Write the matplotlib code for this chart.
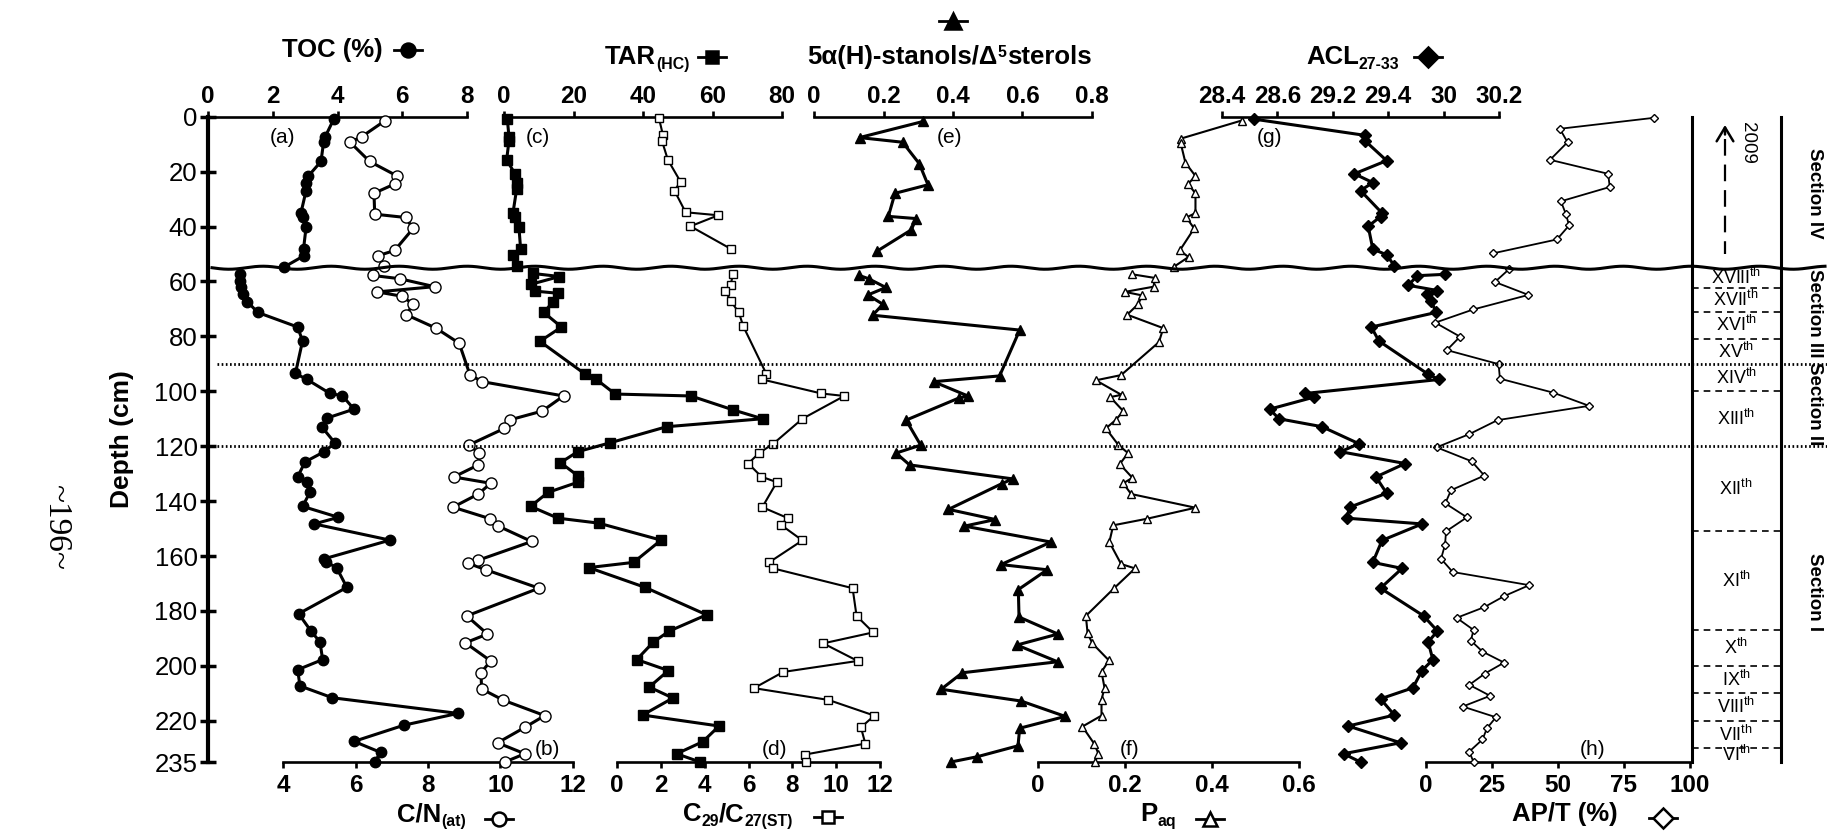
import numpy as np
import matplotlib.pyplot as plt
from matplotlib.lines import Line2D

# ---- data (depth in cm) ----
toc_depth = [1, 7.3, 9.3, 16.3, 21.6, 24, 26.9, 35.1, 36.4, 40.2, 48.2, 50.6, 54.7, 57.4, 59.8, 62.2, 64.6, 67.3,
             71.3, 76.6, 81.7, 93.5, 95.7, 100.8, 101.6, 106.5, 109.7, 112.9, 118.8, 122, 125.7, 131.1, 133.1, 136.8,
             141.9, 145.9, 148.3, 154.2, 161, 162.1, 164.2, 171.4, 181, 187.3, 191.3, 197.7, 201.4, 207.3, 211.6,
             217.3, 221.6, 227.5, 231.5, 235]
toc = [3.88, 3.62, 3.57, 3.49, 3.10, 3.03, 3.03, 2.87, 2.92, 3.03, 2.95, 2.97, 2.36, 1.00, 1.00, 1.03, 1.08, 1.21,
       1.54, 2.77, 2.92, 2.70, 3.06, 3.77, 4.15, 4.51, 3.69, 3.51, 3.92, 3.59, 3.00, 2.77, 3.06, 3.15, 2.92, 4.03,
       3.28, 5.62, 3.59, 3.64, 3.97, 4.29, 2.80, 3.18, 3.46, 3.54, 2.77, 2.84, 3.84, 7.72, 6.05, 4.51, 5.33, 5.15]

cn_depth = [1.4, 7.3, 9.3, 16.3, 21.6, 24.5, 27.9, 35.5, 36.7, 40.7, 48.7, 50.6, 54.5, 57.8, 59, 61.9, 63.8, 65.4,
            68.3, 72.1, 77, 82.5, 94.1, 96.5, 101.7, 107.2, 110.4, 113.5, 119.6, 122.5, 126.8, 131.2, 133.5, 137.4,
            142.2, 146.4, 149.1, 154.7, 161.5, 162.6, 165, 171.7, 181.8, 188.4, 191.6, 198.2, 202.5, 208.4, 212.5,
            218.1, 222.4, 228, 232, 235]
cn = [6.82, 6.17, 5.85, 6.39, 7.15, 7.08, 6.51, 6.53, 7.38, 7.59, 7.08, 6.63, 6.79, 6.47, 7.22, 8.18, 6.60, 7.29,
      7.59, 7.40, 8.22, 8.86, 9.16, 9.50, 11.74, 11.15, 10.26, 10.11, 9.12, 9.42, 9.39, 8.71, 9.73, 9.39, 8.69, 9.71,
      9.94, 10.86, 9.39, 9.10, 9.60, 11.06, 9.07, 9.64, 9.03, 9.73, 9.46, 9.48, 10.08, 11.22, 10.67, 9.92, 10.67,
      10.12]

tar_depth = [0.9, 7.3, 8.8, 15.7, 20.8, 24, 26.4, 35.1, 36.4, 40.2, 48.2, 50.3, 54.3, 57.1, 58.2, 61, 63.5, 64.3,
             67.3, 71.3, 76.6, 81.8, 93.6, 95.7, 101, 101.7, 106.8, 110, 112.9, 118.8, 122, 126, 130.8, 133.1, 136.8,
             141.9, 146.2, 148, 154.2, 162.3, 164.2, 171.4, 181.4, 187.3, 191.3, 197.7, 201.7, 207.7, 211.7, 217.9,
             221.9, 227.6, 232, 235]
tar = [0.96, 1.43, 1.43, 0.76, 3.15, 3.82, 3.63, 2.58, 3.06, 4.30, 4.78, 2.68, 3.63, 8.41, 15.97, 7.84, 8.80, 15.49,
       14.15, 11.47, 16.54, 10.33, 23.2, 26.6, 32.0, 53.8, 66.0, 74.4, 46.8, 30.4, 21.2, 16.25, 21.3, 21.3, 12.7,
       7.65, 15.5, 27.2, 45.2, 37.3, 24.4, 40.6, 58.3, 47.6, 43.0, 38.2, 47.3, 41.8, 48.6, 39.9, 61.9, 57.2, 49.7, 56.4]

c29_depth = [0.4, 6.8, 9.0, 15.7, 23.7, 26.9, 34.8, 35.9, 39.9, 48.2, 57.4, 61.4, 63.5, 67, 71.3, 76.3, 93.6, 95.7,
             100.8, 101.7, 110, 119.1, 122.5, 126.3, 131.1, 133.1, 142.2, 146.2, 148.6, 154.3, 162.3, 164.5, 171.7,
             181.8, 187.8, 191.8, 198.2, 202.2, 208.1, 212.4, 218.1, 222.4, 228.3, 232.3, 235]
c29 = [1.91, 2.10, 2.06, 2.32, 2.90, 2.62, 3.13, 4.62, 3.35, 5.21, 5.29, 5.18, 4.95, 5.18, 5.56, 5.76, 6.81, 6.63,
       9.33, 10.37, 8.46, 7.13, 6.48, 5.99, 6.59, 7.29, 6.63, 7.80, 7.47, 8.46, 6.94, 7.13, 10.75, 10.93, 11.69,
       9.41, 10.98, 7.59, 6.25, 9.65, 11.74, 11.13, 11.33, 8.57, 8.61]

stan_depth = [1.7, 7.6, 9.3, 17.1, 24.8, 27.9, 36.3, 37.1, 41.2, 49, 57.8, 59, 62.2, 64.9, 68.3, 72.3, 77.7, 94.4,
              96.5, 101.7, 102.5, 110.5, 119.6, 122.5, 126.8, 131.9, 133.6, 143, 146.7, 149.1, 154.9, 163.1, 165,
              172.2, 182.2, 188.4, 192.4, 198.5, 202.5, 208.5, 212.8, 218.4, 222.7, 229.1, 233.1, 235]
stan = [0.315, 0.131, 0.255, 0.303, 0.328, 0.233, 0.214, 0.294, 0.280, 0.181, 0.130, 0.157, 0.207, 0.155, 0.198,
        0.169, 0.592, 0.534, 0.344, 0.443, 0.416, 0.265, 0.307, 0.236, 0.275, 0.572, 0.541, 0.387, 0.522, 0.433,
        0.682, 0.538, 0.671, 0.588, 0.590, 0.702, 0.584, 0.701, 0.427, 0.366, 0.596, 0.723, 0.592, 0.587, 0.469, 0.394]

paq_depth = [1.4, 8, 9.6, 16.8, 21.6, 24.5, 27.9, 35.1, 36.7, 40.7, 48.7, 51.1, 54.7, 57.4, 58.7, 61.9, 63.8, 65.1,
             68.3, 72.1, 77, 82.1, 94.1, 96, 101.3, 102.1, 107.2, 110.4, 113.5, 119.6, 122.5, 126.5, 131.5, 133.5,
             137.4, 142.4, 146.4, 148.8, 154.9, 162.9, 164.5, 171.7, 181.8, 188.1, 191.8, 198, 202.2, 208, 212.3,
             218.1, 222.1, 228.3, 232, 235]
paq = [0.468, 0.328, 0.328, 0.339, 0.362, 0.345, 0.362, 0.362, 0.341, 0.359, 0.326, 0.346, 0.312, 0.217, 0.268,
       0.266, 0.200, 0.240, 0.230, 0.205, 0.288, 0.278, 0.191, 0.133, 0.192, 0.166, 0.196, 0.179, 0.156, 0.185,
       0.207, 0.188, 0.217, 0.196, 0.214, 0.362, 0.251, 0.173, 0.164, 0.191, 0.223, 0.175, 0.110, 0.114, 0.125,
       0.163, 0.146, 0.153, 0.146, 0.146, 0.102, 0.129, 0.139, 0.131]

acl_depth = [0.9, 6.8, 8.8, 16, 20.8, 24, 26.9, 35.1, 36.4, 39.9, 48.2, 50.3, 54.3, 57.4, 57.9, 61.4, 63.3, 64.6,
             67, 71.3, 76.6, 81.7, 93.8, 95.7, 100.8, 102.1, 106.5, 110, 112.9, 119.1, 122, 126.3, 131.2, 137.1,
             142.2, 146.2, 148.3, 154.3, 162.3, 164.5, 171.7, 181.8, 187.3, 191.3, 197.7, 201.7, 208, 212, 217.9,
             221.9, 228, 232, 235]
acl = [28.61, 29.33, 29.33, 29.47, 29.26, 29.38, 29.30, 29.44, 29.43, 29.35, 29.38, 29.47, 29.52, 29.85, 29.67,
       29.61, 29.80, 29.73, 29.76, 29.79, 29.37, 29.42, 29.74, 29.81, 28.94, 29.00, 28.71, 28.77, 29.05, 29.29,
       29.17, 29.59, 29.40, 29.47, 29.23, 29.21, 29.70, 29.44, 29.38, 29.57, 29.43, 29.71, 29.80, 29.74, 29.77,
       29.70, 29.64, 29.43, 29.52, 29.22, 29.56, 29.19, 29.30]
acl_ticklabels = ['28.4', '28.6', '29.2', '29.4', '30', '30.2']

apt_depth = [0.4, 4.4, 9.3, 15.7, 20.8, 25.6, 30.8, 35.5, 39.6, 44.7, 49.8, 55.5, 60.2, 64.9, 70.2, 75, 80.1, 85,
             90.1, 95.4, 100.5, 105.3, 110.5, 115.6, 120.4, 125.5, 130.7, 136, 140.8, 145.9, 151, 155.9, 161, 165.8,
             170.6, 174.6, 178.6, 182.5, 186.9, 190.8, 194.8, 198.8, 202.8, 206.9, 210.9, 214.8, 218.7, 222.7, 226.8,
             231.2, 235]
apt = [86.4, 50.7, 53.6, 47.0, 69.0, 69.6, 51.1, 53.0, 54.2, 49.6, 25.2, 31.5, 26.1, 38.8, 17.9, 3.5, 12.9, 7.9,
       27.5, 28.0, 48.2, 61.8, 27.1, 16.4, 4.0, 17.3, 22.1, 9.5, 7.3, 15.5, 7.6, 7.2, 5.7, 10.1, 39.1, 29.6, 22.1,
       11.6, 18.0, 17.0, 21.4, 29.6, 22.3, 16.4, 24.3, 13.9, 26.5, 23.1, 21.4, 16.4, 18.0]

depth_ticks = [0, 20, 40, 60, 80, 100, 120, 140, 160, 180, 200, 220, 235]
hiatus = 55
section_lines = [90, 120]
century_edges = [55, 62.5, 71, 81, 90, 100, 120, 151, 187, 200, 210, 220, 230, 235]
centuries = ['XVIII', 'XVII', 'XVI', 'XV', 'XIV', 'XIII', 'XII', 'XI', 'X', 'IX', 'VIII', 'VII', 'VI']
sections = [('Section IV', 28), ('Section III', 71.5), ('Section II', 104.5), ('Section I', 173)]

# ---- style ----
plt.rcParams['font.family'] = ['Liberation Sans', 'DejaVu Sans']
plt.rcParams['mathtext.fontset'] = 'custom'
plt.rcParams['mathtext.rm'] = 'Liberation Sans'
plt.rcParams['mathtext.bf'] = 'Liberation Sans:bold'
plt.rcParams['mathtext.it'] = 'Liberation Sans:italic'

W, H = 1827, 835
TOP, BOT = 116.7, 762.0
fig = plt.figure(figsize=(W / 100, H / 100), dpi=100)
renderer = fig.canvas.get_renderer()


def rect(x0, x1):
    return [x0 / W, 1 - BOT / H, (x1 - x0) / W, (BOT - TOP) / H]


def panel(x0, x1, lim, side, ticks, labels=None):
    ax = fig.add_axes(rect(x0, x1))
    ax.patch.set_visible(False)
    ax.set_xlim(lim)
    ax.set_ylim(235, 0)
    for s in ax.spines:
        ax.spines[s].set_visible(s == side)
    ax.spines[side].set_linewidth(1.9)
    ax.set_yticks([])
    if side == 'top':
        ax.xaxis.tick_top()
    ax.set_xticks(ticks)
    ax.set_xticklabels(labels if labels else ['%g' % t for t in ticks], fontweight='bold')
    ax.tick_params(axis='x', direction='out', length=4.5, width=1.9, labelsize=17.5,
                   pad=2 if side == 'top' else 4)
    return ax


def series(ax, depth, vals, marker, ms, lw, filled=True, mew=1.0):
    d = np.asarray(depth, float)
    v = np.asarray(vals, float)
    for part in (d < hiatus, d >= hiatus):
        ax.plot(v[part], d[part], color='black', lw=lw, marker=marker, ms=ms,
                mfc='black' if filled else 'white', mec='black', mew=mew, clip_on=False, zorder=3)


def key(xc, yc, marker, ms, filled=True):
    xs = [(xc - 14) / W, xc / W, (xc + 14) / W]
    fig.add_artist(Line2D(xs, [1 - yc / H] * 3, color='black', lw=2, marker=marker, ms=ms, markevery=[1],
                          mfc='black' if filled else 'white', mec='black', mew=1.8))


def title(x, y, parts, size=18.5):
    # parts: (text, kind) with kind n = normal, sub, sup
    for s, kind in parts:
        fs = size if kind == 'n' else size * 0.62
        dy = {'n': 0, 'sub': 5, 'sup': -7}[kind]
        t = fig.text(x / W, 1 - (y + dy) / H, s, fontsize=fs, fontweight='bold', ha='left', va='baseline')
        x += t.get_window_extent(renderer).width


ax_toc = panel(208, 467, (0, 8), 'top', [0, 2, 4, 6, 8])
ax_cn = panel(283, 573, (4, 12), 'bottom', [4, 6, 8, 10, 12])
ax_tar = panel(504, 782, (0, 80), 'top', [0, 20, 40, 60, 80])
ax_c29 = panel(617, 880, (0, 12), 'bottom', [0, 2, 4, 6, 8, 10, 12])
ax_st = panel(814, 1092, (0, 0.8), 'top', [0, 0.2, 0.4, 0.6, 0.8])
ax_pq = panel(1038, 1299, (0, 0.6), 'bottom', [0, 0.2, 0.4, 0.6])
ax_acl = panel(1222, 1499, (28.4, 30.2), 'top', list(np.linspace(28.4, 30.2, 6)), acl_ticklabels)
ax_ap = panel(1426, 1690, (0, 100), 'bottom', [0, 25, 50, 75, 100])

# depth axis
ax_toc.spines['left'].set_visible(True)
ax_toc.spines['left'].set_linewidth(3)
ax_toc.set_yticks(depth_ticks)
ax_toc.tick_params(axis='y', direction='inout', length=11, width=2.5, labelsize=18.5, pad=2)
ax_toc.set_ylabel('Depth (cm)', fontsize=19, fontweight='bold')
ax_toc.yaxis.set_label_coords((134 - 208) / (467 - 208), 0.5)

series(ax_toc, toc_depth, toc, 'o', 7.5, 2.2)
series(ax_cn, cn_depth, cn, 'o', 8, 2.2, filled=False)
series(ax_tar, tar_depth, tar, 's', 6.5, 2.2)
series(ax_c29, c29_depth, c29, 's', 5.5, 1.5, filled=False)
series(ax_st, stan_depth, stan, '^', 7, 2.2)
series(ax_pq, paq_depth, paq, '^', 6, 1.5, filled=False)
series(ax_acl, acl_depth, acl, 'D', 6, 2.2)
series(ax_ap, apt_depth, apt, 'D', 4.5, 1.3, filled=False)

for ax, x, d, s in [(ax_toc, 2.29, 7.5, '(a)'), (ax_cn, 11.3, 230.5, '(b)'), (ax_tar, 9.8, 7.5, '(c)'),
                    (ax_c29, 7.2, 230.5, '(d)'), (ax_st, 0.39, 7.5, '(e)'), (ax_pq, 0.21, 230.5, '(f)'),
                    (ax_acl, 28.71, 7.5, '(g)'), (ax_ap, 63, 230.5, '(h)')]:
    ax.text(x, d, s, fontsize=15, ha='center', va='center')

# titles with little keys
title(281.5, 57, [('TOC (%)', 'n')])
key(408, 50, 'o', 10)
title(605, 64, [('TAR', 'n'), ('(HC)', 'sub')])
key(712, 57, 's', 9)
title(807.6, 64, [('5α(H)-stanols/Δ', 'n'), ('5', 'sup'), ('sterols', 'n')])
key(953, 21, '^', 11)
title(1306, 64, [('ACL', 'n'), ('27-33', 'sub')])
key(1428, 57, 'D', 10)
title(397, 821, [('C/N', 'n'), ('(at)', 'sub')])
key(499, 819, 'o', 10, filled=False)
title(683, 821, [('C', 'n'), ('29', 'sub'), ('/C', 'n'), ('27(ST)', 'sub')])
key(828, 817, 's', 9, filled=False)
title(1140, 821, [('P', 'n'), ('aq', 'sub')])
key(1210, 819, '^', 10, filled=False)
title(1512, 821, [('AP/T (%)', 'n')])
key(1663, 818, 'D', 10, filled=False)

# overlay: hiatus, section limits, chronology column
ov = fig.add_axes(rect(208, W))
ov.set_xlim(208, W)
ov.set_ylim(235, 0)
ov.axis('off')
wx = np.linspace(212, 1825, 1500)
ov.plot(wx, hiatus + 0.55 * np.sin(2 * np.pi * (wx - 212) / 68), color='black', lw=2.2, clip_on=False)
for d in section_lines:
    ov.plot([217, 1827], [d, d], color='black', lw=2.0, ls=(0, (0.6, 0.9)), clip_on=False)
for x in (1692, 1781):
    ov.plot([x, x], [0, 235], color='black', lw=2.2, clip_on=False)
for b in century_edges[1:-1]:
    if b not in section_lines:
        ov.plot([1692, 1781], [b, b], color='black', lw=1.2, ls=(0, (4, 3)))
for name, a, b in zip(centuries, century_edges[:-1], century_edges[1:]):
    ov.text(1736, (a + b) / 2, name + '$^{\\mathrm{th}}$', fontsize=13, ha='center', va='center')
for name, d in sections:
    ov.text(1815, d, name, fontsize=13.5, fontweight='bold', rotation=270, ha='center', va='center', clip_on=False)
ov.text(1747, 9.5, '2009', fontsize=13.5, rotation=270, ha='center', va='center')
ov.plot([1725, 1725], [8, 50], color='black', lw=1.6, ls=(0, (7.5, 4)))
ov.annotate('', xy=(1725, 2.0), xytext=(1725, 7.5),
            arrowprops=dict(arrowstyle='->,head_length=0.5,head_width=0.3', lw=1.8, color='black', mutation_scale=20))

fig.text(56 / W, 1 - 527 / H, '~196~', fontsize=24, family='Liberation Serif', rotation=270,
         ha='center', va='center')

fig.savefig('out.png', dpi=100)
